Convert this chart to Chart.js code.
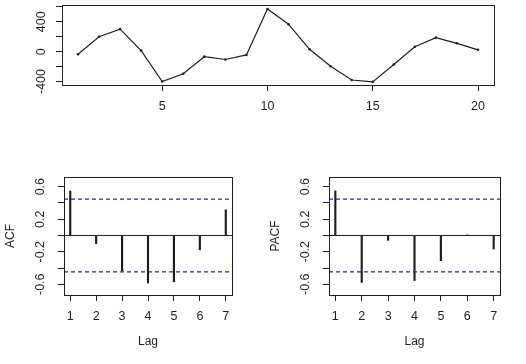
<!DOCTYPE html>
<html>
<head>
<meta charset="utf-8">
<script src="https://cdn.jsdelivr.net/npm/chart.js@4.4.1/dist/chart.umd.min.js"></script>
<style>
  html, body { margin: 0; padding: 0; background: #fff; }
  #wrap { position: relative; width: 526px; height: 364px; overflow: hidden; }
  canvas { position: absolute; }
</style>
</head>
<body>
<div id="wrap">
  <canvas id="chartSeries" width="526" height="120" style="left:0;top:0"></canvas>
  <canvas id="chartAcf" width="263" height="194" style="left:0;top:170px"></canvas>
  <canvas id="chartPacf" width="263" height="194" style="left:263px;top:170px"></canvas>
</div>
<script>
// ── data ──────────────────────────────────────────────
const timeIndex    = [1, 2, 3, 4, 5, 6, 7, 8, 9, 10, 11, 12, 13, 14, 15, 16, 17, 18, 19, 20];
const seriesValues = [-35, 200, 303, 15, -400, -297, -67, -105, -44, 572, 368, 32, -195, -380, -405, -172, 67, 188, 112, 25];
const seriesXTicks = [5, 10, 15, 20];
const seriesYTicks = [-400, -200, 0, 200, 400, 600];
const seriesYLabels = [-400, 0, 400];

const lags       = [1, 2, 3, 4, 5, 6, 7];
const acfValues  = [0.547, -0.10, -0.435, -0.585, -0.57, -0.176, 0.316];
const pacfValues = [0.547, -0.578, -0.06, -0.554, -0.31, 0.005, -0.167];
const corrYTicks  = [-0.6, -0.4, -0.2, 0, 0.2, 0.4, 0.6];
const corrYLabels = [-0.6, -0.2, 0.2, 0.6];
const ciBound = 0.447;

// axis limits (R style 4% extension)
const seriesXMin = 0.24, seriesXMax = 20.76;
const seriesYMin = -447, seriesYMax = 626;
const lagMin = 0.76, lagMax = 7.24;
const corrMin = -0.732, corrMax = 0.719;

const INK  = '#1e1e1e';
const BLUE = '#2323b8';
const FONT_FAMILY = "'Liberation Sans', Arial, sans-serif";
const tickFont  = { family: FONT_FAMILY, size: 12.5 };
const titleFont = { family: FONT_FAMILY, size: 12 };

// box round the plot region + rotated y tick labels, like base R graphics
const rFrame = {
  id: 'rFrame',
  afterDraw(chart, args, opts) {
    const { ctx, chartArea: a } = chart;
    const yScale = chart.scales.y;
    ctx.save();
    ctx.strokeStyle = INK;
    ctx.lineWidth = 1;
    ctx.strokeRect(Math.round(a.left) + 0.5, Math.round(a.top) + 0.5,
                   Math.round(a.right - a.left), Math.round(a.bottom - a.top));
    ctx.fillStyle = INK;
    ctx.font = `${tickFont.size}px ${FONT_FAMILY}`;
    ctx.textAlign = 'center';
    ctx.textBaseline = 'alphabetic';
    (opts.labels || []).forEach(v => {
      ctx.save();
      ctx.translate(a.left - opts.gap, yScale.getPixelForValue(v));
      ctx.rotate(-Math.PI / 2);
      ctx.fillText(String(v), 0, 0);
      ctx.restore();
    });
    ctx.restore();
  }
};

function fixedTicks(values) {
  return s => { s.ticks = values.map(v => ({ value: v })); };
}

const tickGrid = { drawOnChartArea: false, drawTicks: true, tickLength: 6, color: INK, lineWidth: 1 };

const baseOptions = {
  responsive: false,
  animation: false,
  devicePixelRatio: 1,
  events: [],
  plugins: { legend: { display: false }, tooltip: { enabled: false } }
};

// ── 1. Series — line with points ─────────────────────────
new Chart(document.getElementById('chartSeries').getContext('2d'), {
  type: 'line',
  data: {
    datasets: [{
      data: timeIndex.map((t, i) => ({ x: t, y: seriesValues[i] })),
      borderColor: INK,
      borderWidth: 1.2,
      pointRadius: 1.3,
      pointBackgroundColor: INK,
      pointBorderWidth: 0,
      tension: 0
    }]
  },
  options: {
    ...baseOptions,
    layout: { padding: { top: 5, right: 32, left: 0, bottom: 0 } },
    plugins: { ...baseOptions.plugins, rFrame: { labels: seriesYLabels, gap: 17 } },
    scales: {
      x: {
        type: 'linear', min: seriesXMin, max: seriesXMax,
        afterBuildTicks: fixedTicks(seriesXTicks),
        afterFit: s => { s.height = 35; },
        ticks: { color: INK, font: tickFont, padding: 8.3, maxRotation: 0, autoSkip: false, callback: v => String(v) },
        grid: tickGrid,
        border: { display: false }
      },
      y: {
        type: 'linear', min: seriesYMin, max: seriesYMax,
        afterBuildTicks: fixedTicks(seriesYTicks),
        afterFit: s => { s.width = 62; },
        ticks: { display: false },
        grid: tickGrid,
        border: { display: false }
      }
    }
  },
  plugins: [rFrame]
});

// ── 2/3. ACF & PACF — spikes with dashed bounds ──────────
function corrChart(canvasId, values, yTitle, areaLeft, padRight, titlePad) {
  const refLine = (y, color, dash, width) => ({
    type: 'line',
    data: [{ x: lagMin, y }, { x: lagMax, y }],
    borderColor: color,
    borderWidth: width,
    borderDash: dash,
    pointRadius: 0,
    tension: 0
  });
  return new Chart(document.getElementById(canvasId).getContext('2d'), {
    type: 'bar',
    data: {
      datasets: [
        refLine(0, INK, [], 1),
        refLine(ciBound, BLUE, [4, 3], 1.3),
        refLine(-ciBound, BLUE, [4, 3], 1.3),
        {
          type: 'bar',
          data: lags.map((l, i) => ({ x: l, y: values[i] })),
          backgroundColor: INK,
          barThickness: 1.5,
          borderWidth: 0
        }
      ]
    },
    options: {
      ...baseOptions,
      layout: { padding: { top: 7, right: padRight, left: 0, bottom: 0 } },
      plugins: { ...baseOptions.plugins, rFrame: { labels: corrYLabels, gap: 20 } },
      scales: {
        x: {
          type: 'linear', min: lagMin, max: lagMax, offset: false,
          afterBuildTicks: fixedTicks(lags),
          afterFit: s => { s.height = 69; },
          ticks: { color: INK, font: tickFont, padding: 8, maxRotation: 0, autoSkip: false, callback: v => String(v) },
          grid: { ...tickGrid, offset: false },
          border: { display: false },
          title: { display: true, text: 'Lag', color: INK, font: titleFont, padding: { top: 0, bottom: 15 } }
        },
        y: {
          type: 'linear', min: corrMin, max: corrMax,
          afterBuildTicks: fixedTicks(corrYTicks),
          afterFit: s => { s.width = areaLeft; },
          ticks: { display: false },
          grid: tickGrid,
          border: { display: false },
          title: { display: true, text: yTitle, color: INK, font: titleFont, padding: { top: titlePad, bottom: 0 } }
        }
      }
    },
    plugins: [rFrame]
  });
}

corrChart('chartAcf', acfValues, 'ACF', 64, 31, 3.8);
corrChart('chartPacf', pacfValues, 'PACF', 66, 26, 5);
</script>
</body>
</html>
